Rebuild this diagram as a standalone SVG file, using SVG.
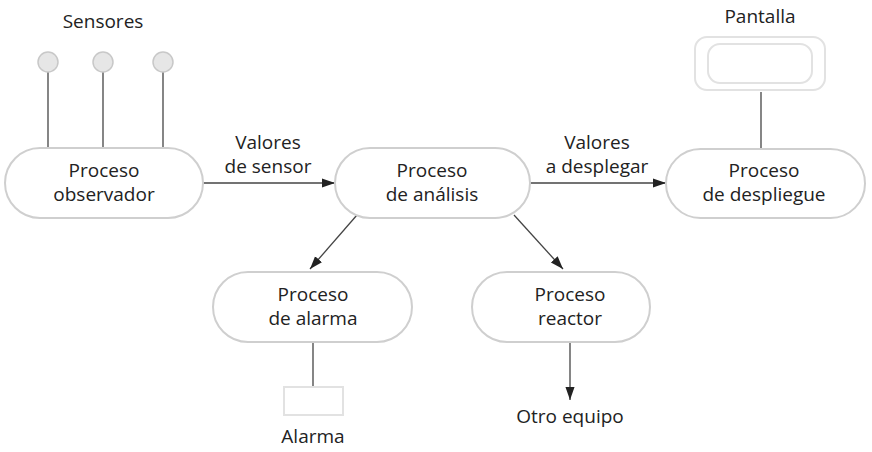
<svg xmlns="http://www.w3.org/2000/svg" width="872" height="452" viewBox="0 0 872 452">
<defs>
<style>
.t{font-family:"Open Sans","Noto Sans","DejaVu Sans",sans-serif;font-size:19px;fill:#222;text-anchor:middle}
.pill{fill:#fff;stroke:#cfcfcf;stroke-width:2}
.ln{stroke:#444;stroke-width:1.3;fill:none}
.sen{fill:#e6e6e6;stroke:#c8c8c8;stroke-width:1.5}
.dev{fill:#fff;stroke:#e2e2e2;stroke-width:2}
</style>
<marker id="ah" viewBox="0 0 10 10" refX="10" refY="5" markerWidth="13" markerHeight="13" markerUnits="userSpaceOnUse" orient="auto">
<path d="M0,1.5 L10,5 L0,8.5 Z" fill="#222"/>
</marker>
</defs>
<rect width="872" height="452" fill="#fff"/>
<g id="connectors">
<line class="ln" x1="48" y1="72" x2="48" y2="148"/>
<line class="ln" x1="103" y1="72" x2="103" y2="148"/>
<line class="ln" x1="163" y1="72" x2="163" y2="148"/>
<line class="ln" x1="203" y1="183" x2="335" y2="183" marker-end="url(#ah)"/>
<line class="ln" x1="530" y1="183" x2="666" y2="183" marker-end="url(#ah)"/>
<line class="ln" x1="761" y1="92" x2="761" y2="149"/>
<line class="ln" x1="357" y1="215" x2="310" y2="269" marker-end="url(#ah)"/>
<line class="ln" x1="514" y1="215" x2="563" y2="269" marker-end="url(#ah)"/>
<line class="ln" x1="313" y1="342" x2="313" y2="387"/>
<line class="ln" x1="570" y1="342" x2="570" y2="400" marker-end="url(#ah)"/>
<text class="t" x="268" y="149">Valores</text>
<text class="t" x="268" y="173">de sensor</text>
<text class="t" x="597" y="149">Valores</text>
<text class="t" x="597" y="173">a desplegar</text>
</g>
<g id="sensores">
<text class="t" x="103" y="28">Sensores</text>
<circle class="sen" cx="48" cy="62" r="10"/>
<circle class="sen" cx="103" cy="62" r="10"/>
<circle class="sen" cx="163" cy="62" r="10"/>
</g>
<g id="observador">
<rect class="pill" x="5" y="148" width="198" height="70" rx="35"/>
<text class="t" x="104" y="177">Proceso</text>
<text class="t" x="104" y="201">observador</text>
</g>
<g id="analisis">
<rect class="pill" x="335" y="148" width="195" height="70" rx="35"/>
<text class="t" x="432" y="177">Proceso</text>
<text class="t" x="432" y="201">de análisis</text>
</g>
<g id="pantalla">
<text class="t" x="760" y="23">Pantalla</text>
<rect class="dev" x="695" y="37" width="130" height="53" rx="12"/>
<rect class="dev" x="708" y="44" width="104" height="39" rx="12"/>
</g>
<g id="despliegue">
<rect class="pill" x="666" y="149" width="199" height="69" rx="34.5"/>
<text class="t" x="764" y="177">Proceso</text>
<text class="t" x="764" y="201">de despliegue</text>
</g>
<g id="alarma-proc">
<rect class="pill" x="213" y="272" width="199" height="70" rx="35"/>
<text class="t" x="313" y="301">Proceso</text>
<text class="t" x="313" y="325">de alarma</text>
</g>
<g id="reactor">
<rect class="pill" x="472" y="272" width="178" height="70" rx="35"/>
<text class="t" x="570" y="301">Proceso</text>
<text class="t" x="570" y="325">reactor</text>
</g>
<g id="alarma">
<rect class="dev" x="284" y="387" width="59" height="28"/>
<text class="t" x="313" y="443">Alarma</text>
</g>
<g id="otro">
<text class="t" x="570" y="423">Otro equipo</text>
</g>
</svg>
